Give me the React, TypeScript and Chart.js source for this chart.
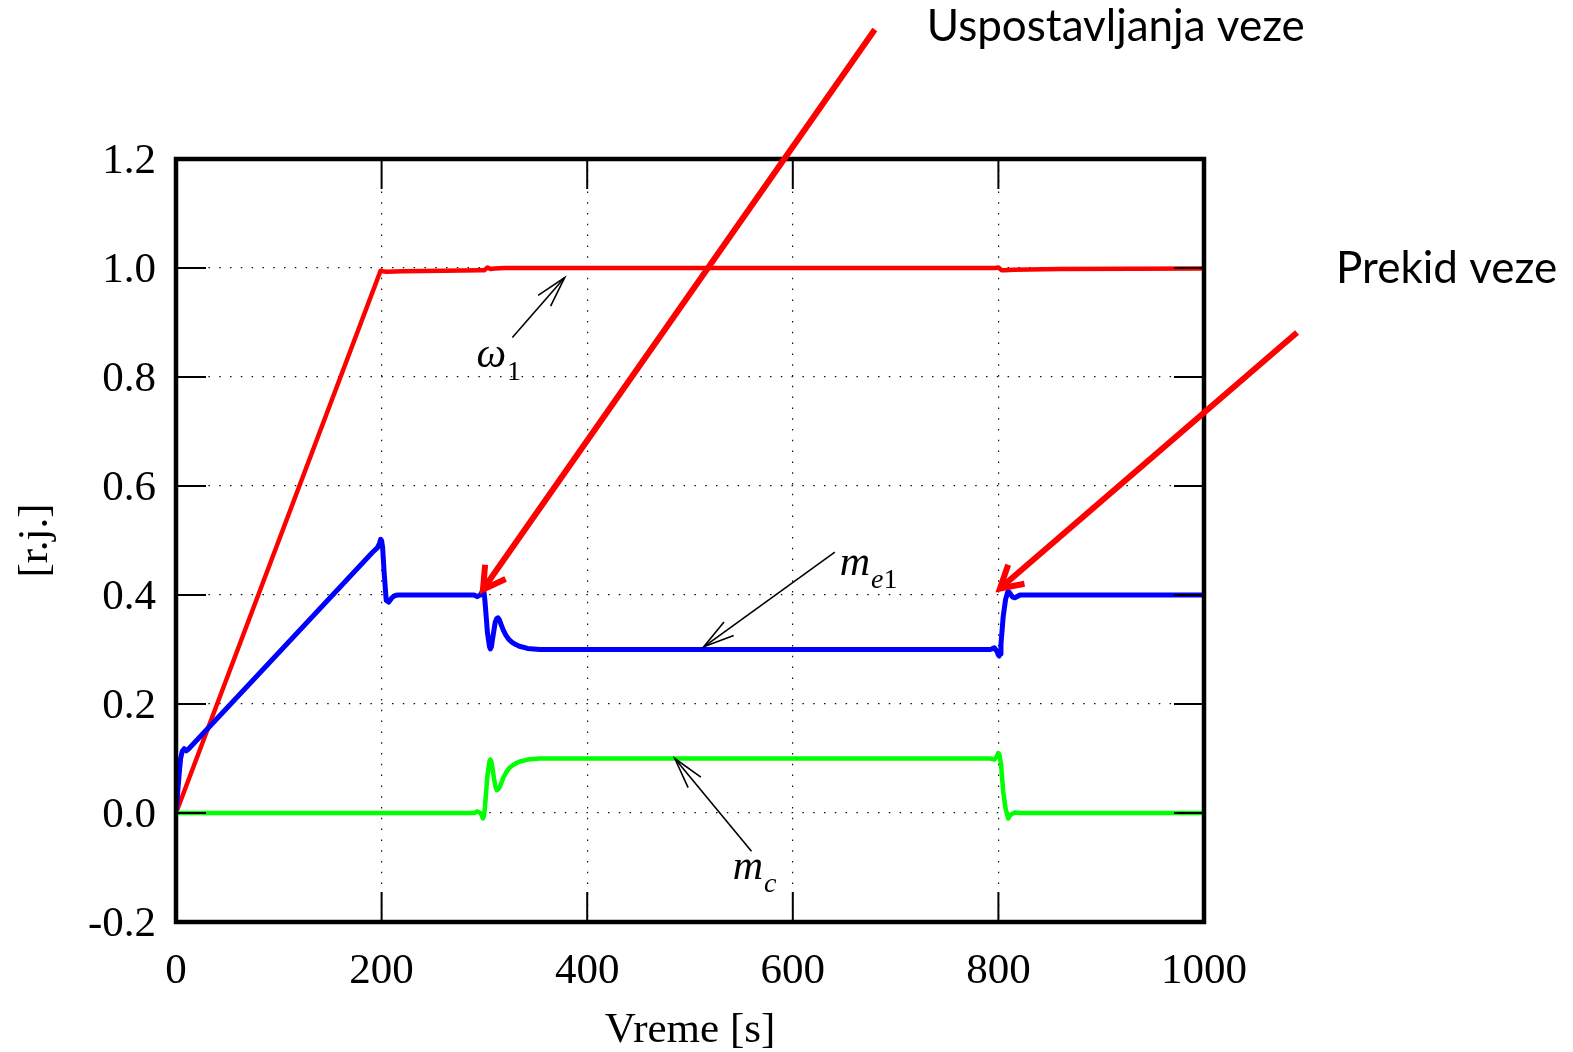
import { useEffect, useRef } from 'react';
import { Chart, registerables } from 'chart.js';

Chart.register(...registerables);

// Rotor speed ω1 [r.j.]
const omegaTime = [0, 199, 201, 205, 220, 260, 296, 300, 303, 306, 310, 320, 340, 500, 790, 797, 800, 803, 806, 815, 860, 1000];
const omegaValue = [0, 0.995, 0.994, 0.993, 0.994, 0.995, 0.996, 0.996, 1.001, 0.998, 0.999, 1.0, 1.0, 1.0, 1.0, 1.0, 1.001, 0.996, 0.996, 0.997, 0.998, 0.999];

// Electromagnetic torque m_e1 [r.j.]
const meTime = [0, 1.5, 3, 4.5, 6, 8, 10, 12, 91, 191, 196, 198, 199, 200, 201, 202.5, 204.5, 207, 210, 213, 216, 290, 293, 296, 297.5, 298.6, 299.6, 300.5, 303, 305, 305.8, 306.8, 308, 310.5, 312, 313.2, 314.5, 316, 318.5, 321, 324, 327, 330.5, 334, 342, 354, 370, 792, 796, 798.5, 800, 800.8, 801.8, 802.5, 804.7, 807, 809, 809.5, 810.5, 812, 814, 816, 821, 1000];
const meValue = [0, 0.035, 0.07, 0.1, 0.113, 0.118, 0.114, 0.117, 0.276, 0.478, 0.487, 0.495, 0.502, 0.5, 0.487, 0.44, 0.39, 0.387, 0.395, 0.399, 0.4, 0.4, 0.397, 0.4, 0.405, 0.409, 0.405, 0.39, 0.33, 0.305, 0.301, 0.305, 0.32, 0.35, 0.357, 0.358, 0.355, 0.347, 0.335, 0.326, 0.318, 0.313, 0.309, 0.306, 0.302, 0.3, 0.3, 0.3, 0.303, 0.297, 0.29, 0.288, 0.292, 0.31, 0.361, 0.392, 0.405, 0.407, 0.405, 0.401, 0.396, 0.395, 0.4, 0.4];

// Coupling torque m_c [r.j.]
const mcTime = [0, 290, 293, 296, 297.5, 298.6, 299.6, 300.5, 303, 305, 305.8, 306.8, 308, 310.5, 312, 313.2, 314.5, 316, 318.5, 321, 324, 327, 330.5, 334, 342, 354, 370, 792, 796, 798.5, 799.8, 800.8, 802.5, 804.7, 807, 809, 809.5, 810.5, 812, 816, 821, 1000];
const mcValue = [0, 0, 0.003, 0, -0.005, -0.01, -0.005, 0.01, 0.07, 0.095, 0.098, 0.094, 0.08, 0.05, 0.042, 0.043, 0.046, 0.053, 0.065, 0.074, 0.082, 0.087, 0.091, 0.094, 0.098, 0.1, 0.1, 0.1, 0.098, 0.104, 0.11, 0.108, 0.09, 0.039, 0.008, -0.006, -0.01, -0.007, -0.003, 0.001, 0, 0];

const xTicks = [0, 200, 400, 600, 800, 1000];
const yTicks = [-0.2, 0, 0.2, 0.4, 0.6, 0.8, 1.0, 1.2];

// Event callouts (tail -> tip, in axis units)
const eventArrows = [
  { from: [679.8, 1.4376], to: [298.6, 0.41] },
  { from: [1090.5, 0.8817], to: [801.5, 0.412] },
];
const eventTexts = [
  { text: 'Uspostavljanja veze', at: [730.4, 1.4174] },
  { text: 'Prekid veze', at: [1128.5, 0.9716] },
];

// Curve labels with pointer arrows (axis units)
const curveLabels = [
  { main: 'ω', sub: [{ s: '1', italic: false }], at: [292.2, 0.819], from: [327.2, 0.8725], to: [378.1, 0.9826] },
  { main: 'm', sub: [{ s: 'e', italic: true }, { s: '1', italic: false }], at: [645.7, 0.4376], from: [640.9, 0.4785], to: [513.4, 0.305] },
  { main: 'm', sub: [{ s: 'c', italic: true }], at: [541.6, -0.122], from: [559.8, -0.07], to: [485.2, 0.1] },
];

const SERIF = '"Liberation Serif", "Times New Roman", serif';

function toPoints(t: number[], v: number[]) {
  return t.map((x, i) => ({ x, y: v[i] }));
}

function drawArrow(
  ctx: CanvasRenderingContext2D,
  x0: number, y0: number, x1: number, y1: number,
  head: number, half: number, width: number, color: string,
) {
  const ang = Math.atan2(y0 - y1, x0 - x1);
  ctx.save();
  ctx.strokeStyle = color;
  ctx.lineWidth = width;
  ctx.lineCap = 'butt';
  ctx.lineJoin = 'miter';
  ctx.beginPath();
  ctx.moveTo(x0, y0);
  ctx.lineTo(x1, y1);
  ctx.stroke();
  ctx.beginPath();
  ctx.moveTo(x1 + head * Math.cos(ang + half), y1 + head * Math.sin(ang + half));
  ctx.lineTo(x1, y1);
  ctx.lineTo(x1 + head * Math.cos(ang - half), y1 + head * Math.sin(ang - half));
  ctx.stroke();
  ctx.restore();
}

const decorations = {
  id: 'decorations',
  afterDatasetsDraw(chart: any) {
    const { ctx, chartArea: a, scales } = chart;
    const x = scales.x;
    const y = scales.y;
    const px = (t: number) => x.getPixelForValue(t);
    const py = (v: number) => y.getPixelForValue(v);

    ctx.save();
    // inner tick marks on all four sides
    ctx.strokeStyle = '#000';
    ctx.lineWidth = 2;
    const tl = 30;
    ctx.beginPath();
    xTicks.forEach((t) => {
      const X = px(t);
      ctx.moveTo(X, a.bottom); ctx.lineTo(X, a.bottom - tl);
      ctx.moveTo(X, a.top); ctx.lineTo(X, a.top + tl);
    });
    yTicks.forEach((v) => {
      const Y = py(v);
      ctx.moveTo(a.left, Y); ctx.lineTo(a.left + tl, Y);
      ctx.moveTo(a.right, Y); ctx.lineTo(a.right - tl, Y);
    });
    ctx.stroke();

    // plot frame
    ctx.lineWidth = 4.5;
    ctx.strokeRect(a.left, a.top, a.right - a.left, a.bottom - a.top);

    // curve labels and their pointers
    curveLabels.forEach((l) => {
      drawArrow(ctx, px(l.from[0]), py(l.from[1]), px(l.to[0]), py(l.to[1]), 32, (15 * Math.PI) / 180, 1.6, '#000');
      ctx.fillStyle = '#000';
      ctx.textBaseline = 'alphabetic';
      ctx.textAlign = 'left';
      let cx = px(l.at[0]);
      const cy = py(l.at[1]);
      ctx.font = `italic 42px ${SERIF}`;
      ctx.fillText(l.main, cx, cy);
      cx += ctx.measureText(l.main).width + 1;
      l.sub.forEach((p) => {
        ctx.font = `${p.italic ? 'italic ' : ''}28px ${SERIF}`;
        ctx.fillText(p.s, cx, cy + 13);
        cx += ctx.measureText(p.s).width;
      });
    });

    // event callouts
    eventArrows.forEach((e) => {
      drawArrow(ctx, px(e.from[0]), py(e.from[1]), px(e.to[0]), py(e.to[1]), 25, (30 * Math.PI) / 180, 6, '#ff0000');
    });
    ctx.fillStyle = '#000';
    ctx.font = '44px Lato, "Open Sans", sans-serif';
    ctx.textAlign = 'left';
    ctx.textBaseline = 'alphabetic';
    eventTexts.forEach((e) => {
      ctx.fillText(e.text, px(e.at[0]), py(e.at[1]));
    });
    ctx.restore();
  },
};

export default function App() {
  const canvasRef = useRef<HTMLCanvasElement | null>(null);

  useEffect(() => {
    const canvas = canvasRef.current;
    if (!canvas) return;

    const edgeHidden = (ticks: number[]) => (c: any) => {
      const v = c.tick ? c.tick.value : NaN;
      const first = ticks[0];
      const last = ticks[ticks.length - 1];
      return Math.abs(v - first) < 1e-9 || Math.abs(v - last) < 1e-9 ? 'rgba(0,0,0,0)' : '#111';
    };

    const chart = new Chart(canvas, {
      type: 'line',
      data: {
        datasets: [
          {
            label: 'ω1',
            data: toPoints(omegaTime, omegaValue),
            borderColor: '#ff0000',
            borderWidth: 4.5,
            order: 2,
          },
          {
            label: 'me1',
            data: toPoints(meTime, meValue),
            borderColor: '#0000ff',
            borderWidth: 5,
            order: 1,
          },
          {
            label: 'mc',
            data: toPoints(mcTime, mcValue),
            borderColor: '#00ff00',
            borderWidth: 4.5,
            order: 0,
          },
        ],
      },
      options: {
        responsive: false,
        devicePixelRatio: 1,
        animation: false,
        events: [],
        datasets: {
          line: {
            pointRadius: 0,
            fill: false,
            tension: 0,
            borderJoinStyle: 'round',
            borderCapStyle: 'round',
          },
        },
        layout: { padding: { left: 0, top: 159, right: 369, bottom: 0 } },
        plugins: {
          legend: { display: false },
          tooltip: { enabled: false },
        },
        scales: {
          x: {
            type: 'linear',
            min: 0,
            max: 1000,
            afterBuildTicks: (s: any) => { s.ticks = xTicks.map((value) => ({ value })); },
            afterFit: (s: any) => { s.height = 130; },
            ticks: {
              color: '#000',
              font: { family: SERIF, size: 43 },
              padding: 24,
              maxRotation: 0,
              callback: (v: any) => String(v),
            },
            grid: { drawTicks: false, lineWidth: 1.2, color: edgeHidden(xTicks) },
            border: { display: false, dash: [1.5, 9.3] },
            title: {
              display: true,
              text: 'Vreme [s]',
              color: '#000',
              font: { family: SERIF, size: 43, lineHeight: 1.0 },
              padding: { top: 0, bottom: 0 },
            },
          },
          y: {
            type: 'linear',
            min: -0.2,
            max: 1.2,
            afterBuildTicks: (s: any) => { s.ticks = yTicks.map((value) => ({ value })); },
            afterFit: (s: any) => { s.width = 176; },
            ticks: {
              color: '#000',
              font: { family: SERIF, size: 43 },
              padding: 20,
              labelOffset: 2.5,
              callback: (v: any) => (Math.abs(Number(v)) < 1e-9 ? '0.0' : Number(v).toFixed(1)),
            },
            grid: { drawTicks: false, lineWidth: 1.2, color: edgeHidden(yTicks) },
            border: { display: false, dash: [1.5, 9.3] },
            title: {
              display: true,
              text: '[r.j.]',
              color: '#000',
              font: { family: SERIF, size: 43 },
              padding: { top: 10, bottom: 0 },
            },
          },
        },
      } as any,
      plugins: [decorations],
    });

    return () => chart.destroy();
  }, []);

  return (
    <div style={{ position: 'fixed', left: 0, top: 0, width: 1573, height: 1052, background: '#fff' }}>
      <canvas ref={canvasRef} width={1573} height={1052} />
    </div>
  );
}
